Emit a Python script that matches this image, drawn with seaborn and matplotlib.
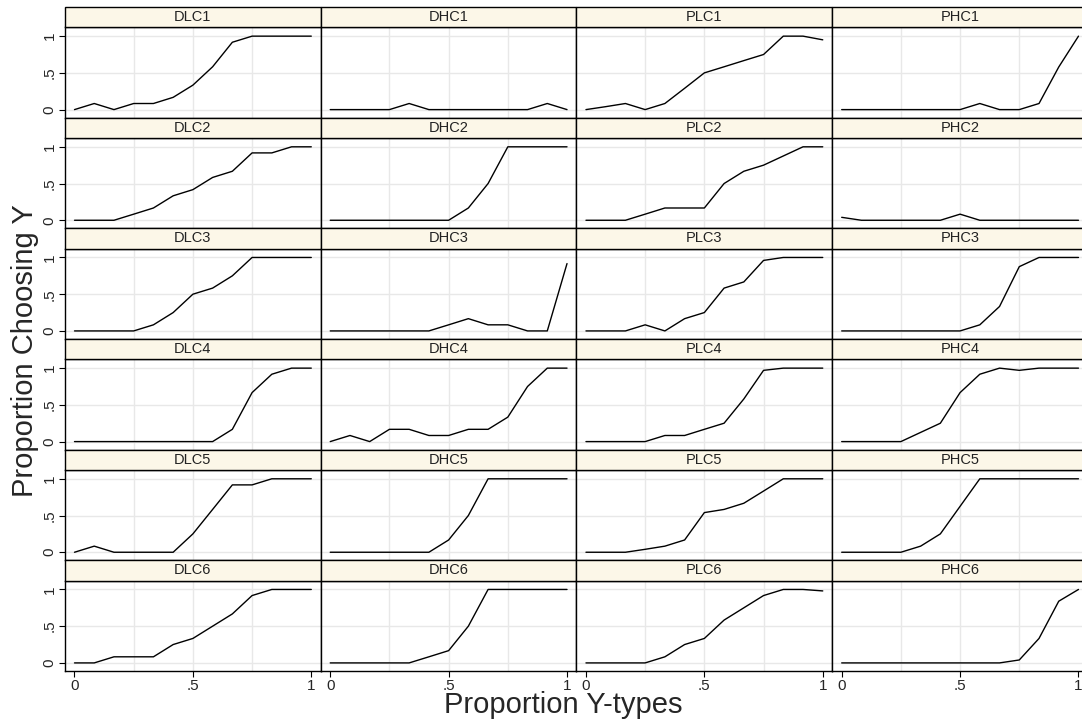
import matplotlib
matplotlib.use("Agg")
import matplotlib.pyplot as plt
import matplotlib.patches as mpatches
import seaborn as sns
import pandas as pd

# x grid: proportion of Y-types, 13 steps of 1/12
x_vals = [k / 12 for k in range(13)]

treatments = ["DLC", "DHC", "PLC", "PHC"]
rounds = [1, 2, 3, 4, 5, 6]

# proportion choosing Y
DLC1 = [0, .083, 0, .083, .083, .167, .333, .583, .917, 1, 1, 1, 1]
DHC1 = [0, 0, 0, 0, .083, 0, 0, 0, 0, 0, 0, .083, 0]
PLC1 = [0, .04, .083, 0, .083, .29, .5, .583, .667, .75, 1, 1, .95]
PHC1 = [0, 0, 0, 0, 0, 0, 0, .083, 0, 0, .083, .58, 1]

DLC2 = [0, 0, 0, .083, .167, .333, .417, .583, .667, .917, .917, 1, 1]
DHC2 = [0, 0, 0, 0, 0, 0, 0, .167, .5, 1, 1, 1, 1]
PLC2 = [0, 0, 0, .083, .167, .167, .167, .5, .667, .75, .875, 1, 1]
PHC2 = [.04, 0, 0, 0, 0, 0, .083, 0, 0, 0, 0, 0, 0]

DLC3 = [0, 0, 0, 0, .083, .25, .5, .583, .75, 1, 1, 1, 1]
DHC3 = [0, 0, 0, 0, 0, 0, .083, .167, .083, .083, 0, 0, .917]
PLC3 = [0, 0, 0, .083, 0, .167, .25, .583, .667, .96, 1, 1, 1]
PHC3 = [0, 0, 0, 0, 0, 0, 0, .083, .333, .875, 1, 1, 1]

DLC4 = [0, 0, 0, 0, 0, 0, 0, 0, .167, .667, .917, 1, 1]
DHC4 = [0, .083, 0, .167, .167, .083, .083, .167, .167, .333, .75, 1, 1]
PLC4 = [0, 0, 0, 0, .083, .083, .167, .25, .58, .97, 1, 1, 1]
PHC4 = [0, 0, 0, 0, .125, .25, .667, .917, 1, .97, 1, 1, 1]

DLC5 = [0, .083, 0, 0, 0, 0, .25, .583, .917, .917, 1, 1, 1]
DHC5 = [0, 0, 0, 0, 0, 0, .167, .5, 1, 1, 1, 1, 1]
PLC5 = [0, 0, 0, .04, .083, .167, .54, .583, .667, .833, 1, 1, 1]
PHC5 = [0, 0, 0, 0, .083, .25, .625, 1, 1, 1, 1, 1, 1]

DLC6 = [0, 0, .083, .083, .083, .25, .333, .5, .667, .917, 1, 1, 1]
DHC6 = [0, 0, 0, 0, 0, .083, .167, .5, 1, 1, 1, 1, 1]
PLC6 = [0, 0, 0, 0, .083, .25, .333, .583, .75, .917, 1, 1, .98]
PHC6 = [0, 0, 0, 0, 0, 0, 0, 0, 0, .04, .333, .84, 1]

series = {
    "DLC1": DLC1, "DHC1": DHC1, "PLC1": PLC1, "PHC1": PHC1,
    "DLC2": DLC2, "DHC2": DHC2, "PLC2": PLC2, "PHC2": PHC2,
    "DLC3": DLC3, "DHC3": DHC3, "PLC3": PLC3, "PHC3": PHC3,
    "DLC4": DLC4, "DHC4": DHC4, "PLC4": PLC4, "PHC4": PHC4,
    "DLC5": DLC5, "DHC5": DHC5, "PLC5": PLC5, "PHC5": PHC5,
    "DLC6": DLC6, "DHC6": DHC6, "PLC6": PLC6, "PHC6": PHC6,
}

rows = []
for r in rounds:
    for t in treatments:
        name = f"{t}{r}"
        for xv, yv in zip(x_vals, series[name]):
            rows.append({"round": r, "treat": t, "x": xv, "y": yv})
df = pd.DataFrame(rows)

sns.set_theme(style="white")
plt.rcParams["font.family"] = ["Liberation Sans", "DejaVu Sans"]

g = sns.relplot(
    data=df, x="x", y="y", row="round", col="treat",
    row_order=rounds, col_order=treatments,
    kind="line", color="black", linewidth=1.0,
    height=1.2, aspect=2.5, facet_kws={"sharex": True, "sharey": True},
)

fig = g.figure
fig.set_size_inches(10.82, 7.25)
fig.subplots_adjust(left=0.0601, right=1.0055, bottom=0.0745, top=0.9623,
                    wspace=0, hspace=20.3 / 90.3)

head_h = 20.3 / 90.3
for i, r in enumerate(rounds):
    for j, t in enumerate(treatments):
        ax = g.axes[i, j]
        ax.set_title("")
        ax.set_xlabel("")
        ax.set_ylabel("")
        ax.set_xlim(-0.04, 1.04)
        ax.set_ylim(-0.11, 1.12)
        ax.set_xticks([0, 0.5, 1])
        ax.set_yticks([0, 0.5, 1])
        # light grid like Stata's s2 scheme
        for gx in [0.25, 0.5, 0.75]:
            ax.axvline(gx, color="#E8E8E8", lw=1.0, zorder=0)
        for gy in [0, 0.5, 1]:
            ax.axhline(gy, color="#E8E8E8", lw=1.0, zorder=0)
        for sp in ax.spines.values():
            sp.set_color("black")
            sp.set_linewidth(1.0)
            sp.set_visible(True)
        ax.tick_params(axis="both", which="both", length=4, width=0.8,
                       color="black", labelsize=11, pad=2)
        if j == 0:
            ax.tick_params(axis="y", left=True, labelleft=True)
            ax.set_yticklabels(["0", ".5", "1"], rotation=90, va="center")
        else:
            ax.tick_params(axis="y", left=False, labelleft=False)
        if i == len(rounds) - 1:
            ax.tick_params(axis="x", bottom=True, labelbottom=True)
            ax.set_xticklabels(["0", ".5", "1"])
        else:
            ax.tick_params(axis="x", bottom=False, labelbottom=False)
        # header strip
        strip = mpatches.Rectangle((0, 1), 1, head_h, transform=ax.transAxes,
                                   facecolor="#FCF7E8", edgecolor="black",
                                   linewidth=1.0, clip_on=False, zorder=3)
        ax.add_patch(strip)
        ax.text(0.5, 1 + head_h / 2, f"{t}{r}", transform=ax.transAxes,
                ha="center", va="center", fontsize=10.5, color="#222222",
                zorder=4)

fig.text(0.023, 0.517, "Proportion Choosing Y", rotation=90,
         ha="center", va="center", fontsize=21)
fig.text(0.521, 0.027, "Proportion Y-types", ha="center", va="center",
         fontsize=21)

fig.savefig("out.png", dpi=100)
